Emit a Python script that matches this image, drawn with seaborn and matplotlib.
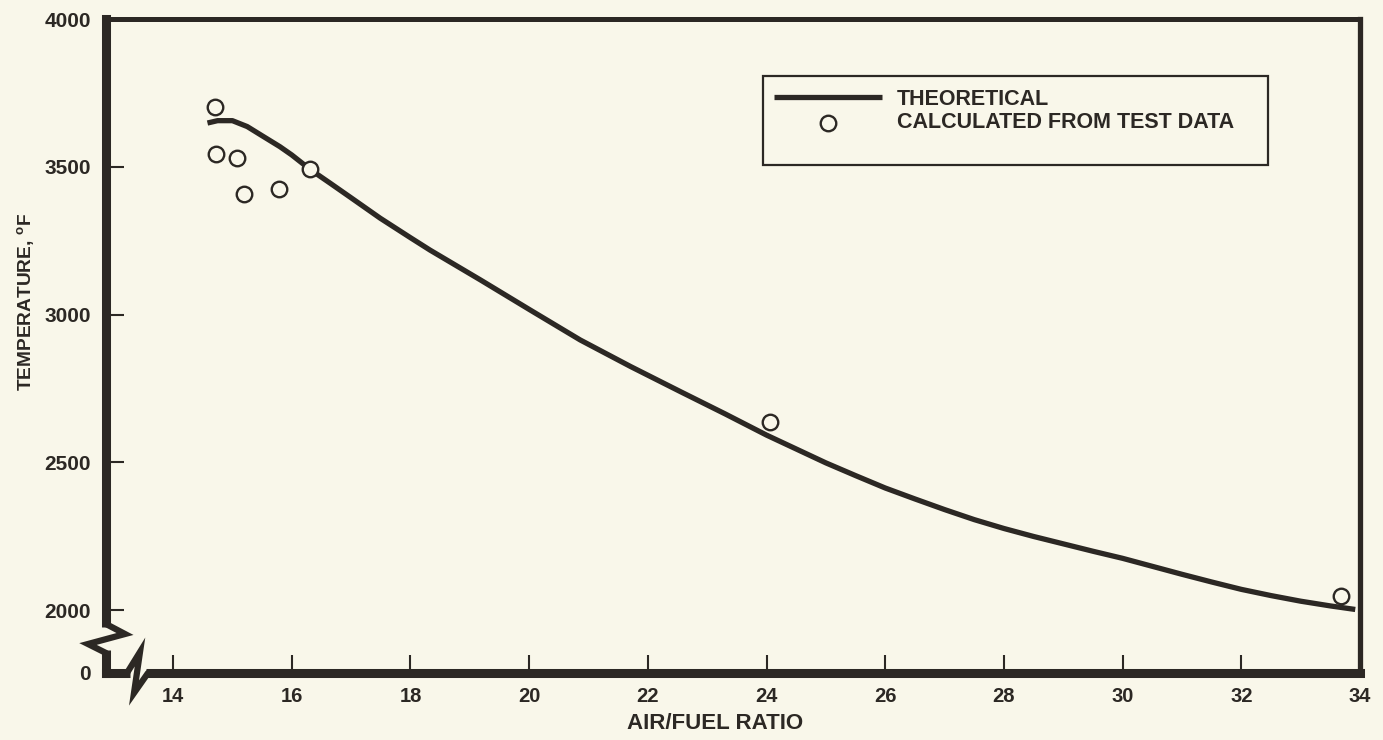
import numpy as np
import pandas as pd
import matplotlib
matplotlib.use("Agg")
import matplotlib.pyplot as plt
from matplotlib.patches import Rectangle
import seaborn as sns

# ---------------- data ----------------
theory_x = [14.58, 14.75, 15.00, 15.25, 15.50, 15.80, 16.00, 16.31, 16.65, 17.00,
            17.49, 18.00, 18.33, 19.18, 20.02, 20.86, 21.71, 22.55, 23.30, 24.00,
            24.50, 25.00, 25.50, 26.00, 26.50, 27.00, 27.50, 28.00, 28.50, 29.00,
            29.50, 30.00, 30.50, 31.00, 31.50, 32.00, 32.50, 33.00, 33.50, 33.92]
theory_y = [3648, 3656, 3656, 3636, 3605, 3568, 3540, 3491, 3444, 3395,
            3326, 3260, 3218, 3117, 3015, 2914, 2824, 2739, 2664, 2592,
            2545, 2498, 2455, 2413, 2376, 2340, 2306, 2276, 2249, 2224,
            2199, 2175, 2148, 2121, 2095, 2070, 2049, 2030, 2014, 2002]
test_x = [14.71, 14.72, 15.08, 15.20, 15.79, 16.31, 24.06, 33.68]
test_y = [3702, 3543, 3530, 3408, 3424, 3491, 2637, 2047]

x_ticks = [14, 16, 18, 20, 22, 24, 26, 28, 30, 32, 34]
y_ticks = [2000, 2500, 3000, 3500, 4000]
y_tick_labels = ["2000", "2500", "3000", "3500", "4000"]
y_zero_label = "0"

label_theory = "THEORETICAL"
label_test = "CALCULATED FROM TEST DATA"
x_title = "AIR/FUEL RATIO"
y_title = r"TEMPERATURE, $^{\mathrm{o}}$F"

# ---------------- style ----------------
BG = "#f9f7ea"
INK = "#2c2824"

sns.set_theme(style="white")
plt.rcParams["font.family"] = ["Liberation Sans", "DejaVu Sans"]
plt.rcParams["font.weight"] = "bold"
plt.rcParams["mathtext.fontset"] = "custom"
plt.rcParams["mathtext.rm"] = "Liberation Sans:bold"
plt.rcParams["mathtext.bf"] = "Liberation Sans:bold"
plt.rcParams["text.color"] = INK

fig = plt.figure(figsize=(13.83, 7.40), dpi=100, facecolor=BG)
ax = fig.add_axes([106 / 1383, 1 - 673 / 740, 1254 / 1383, 654 / 740])
ax.set_facecolor(BG)

y_bottom = 1787
ax.set_xlim(12.87, 34.0)
ax.set_ylim(y_bottom, 4000)

df_t = pd.DataFrame({"x": theory_x, "y": theory_y})
df_d = pd.DataFrame({"x": test_x, "y": test_y})

sns.lineplot(data=df_t, x="x", y="y", ax=ax, color=INK, linewidth=3.8,
             estimator=None, sort=False, label=label_theory, zorder=3,
             solid_capstyle="butt", solid_joinstyle="round")
sns.scatterplot(data=df_d, x="x", y="y", ax=ax, marker="o", s=125,
                facecolor=BG, edgecolor=INK, linewidth=1.7, zorder=4,
                label=label_test)

# ticks
ax.set_xticks(x_ticks)
ax.set_xticklabels([str(t) for t in x_ticks])
ax.set_yticks([y_bottom] + y_ticks)
ax.set_yticklabels([y_zero_label] + y_tick_labels)
ax.tick_params(axis="both", which="both", direction="in", length=13, width=1.5,
               color=INK, labelcolor=INK, top=False, right=False,
               left=True, bottom=True)
ax.tick_params(axis="x", labelsize=14.5, pad=10)
ax.tick_params(axis="y", labelsize=15, pad=11)
for lab in ax.get_xticklabels() + ax.get_yticklabels():
    lab.set_fontweight("bold")

# spines
for side, lw in [("left", 6.5), ("bottom", 6.5), ("top", 3.6), ("right", 3.8)]:
    ax.spines[side].set_visible(True)
    ax.spines[side].set_color(INK)
    ax.spines[side].set_linewidth(lw)
    ax.spines[side].set_capstyle("projecting")

# axis titles
ax.set_xlabel(x_title, fontsize=16, fontweight="bold", color=INK)
ax.xaxis.set_label_coords(0.486, -0.0765)
ax.set_ylabel(y_title, fontsize=13.8, fontweight="bold", color=INK)
ax.yaxis.set_label_coords(-0.0640, 0.567)
ax.yaxis.label.set_verticalalignment("center")
ax.xaxis.label.set_verticalalignment("center")

# axis break symbols (decoration, axes-fraction coordinates)
def px(xp, yp):
    return ((xp - 106) / 1254, (673 - yp) / 654)

mask_y = [px(106, 627), px(106, 650)]
ax.plot([p[0] for p in mask_y], [p[1] for p in mask_y], transform=ax.transAxes,
        color=BG, linewidth=9, clip_on=False, zorder=5, solid_capstyle="butt")
bolt_y = [px(106, 624), px(125, 634), px(88, 644), px(106, 653)]
ax.plot([p[0] for p in bolt_y], [p[1] for p in bolt_y], transform=ax.transAxes,
        color=INK, linewidth=4.5, clip_on=False, zorder=6,
        solid_joinstyle="miter")

mask_x = [px(130, 673), px(146, 673)]
ax.plot([p[0] for p in mask_x], [p[1] for p in mask_x], transform=ax.transAxes,
        color=BG, linewidth=9, clip_on=False, zorder=5, solid_capstyle="butt")
bolt_x = [px(127, 673), px(140, 652), px(134, 693), px(148, 673)]
ax.plot([p[0] for p in bolt_x], [p[1] for p in bolt_x], transform=ax.transAxes,
        color=INK, linewidth=4.5, clip_on=False, zorder=6,
        solid_joinstyle="miter")

# legend
box = Rectangle(px(763, 165), (1268 - 763) / 1254, (165 - 76) / 654,
                transform=ax.transAxes, facecolor=BG, edgecolor=INK,
                linewidth=1.6, zorder=7)
ax.add_patch(box)
leg = ax.legend(loc="upper left", bbox_to_anchor=px(774, 89), frameon=False,
                borderpad=0, borderaxespad=0, handlelength=5.0,
                handletextpad=0.7, labelspacing=0.1,
                prop={"family": "Liberation Sans", "weight": "bold", "size": 15.5})
leg.set_zorder(8)
for t in leg.get_texts():
    t.set_color(INK)

fig.savefig("out.png", dpi=100, facecolor=BG)
